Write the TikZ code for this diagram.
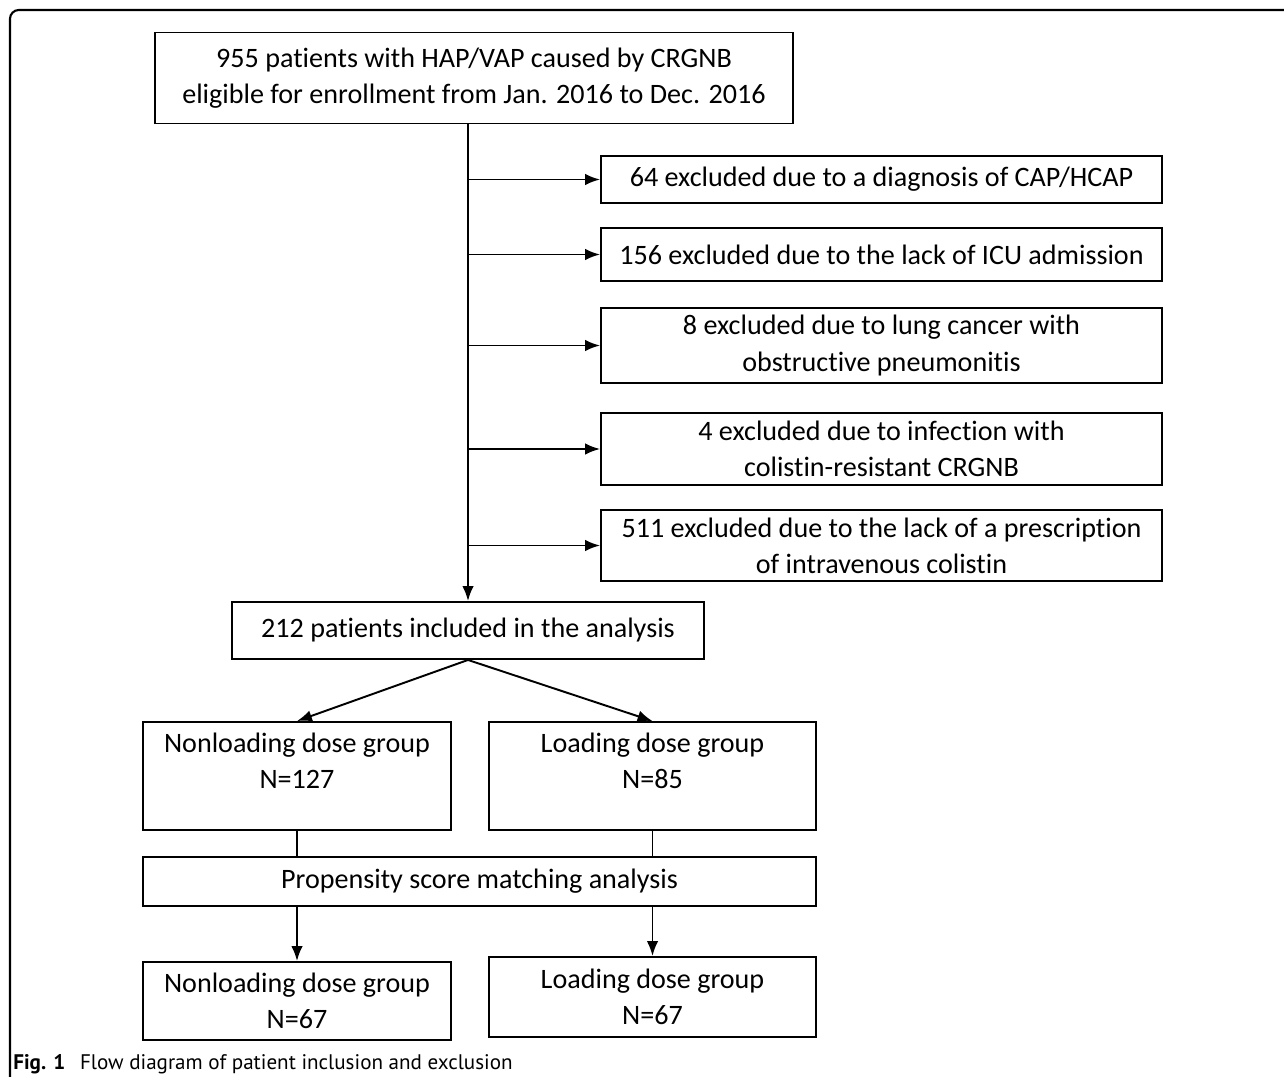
\documentclass[tikz,border=0pt]{standalone}
\usepackage{fontspec}
\setmainfont{Carlito}[Ligatures=NoCommon]
\newfontfamily\capfont{PT Sans}
\usetikzlibrary{positioning,arrows.meta}

\begin{document}
\begin{tikzpicture}[x=0.02cm, y=-0.02cm, >={Latex[length=8.5pt,width=6.5pt]},
    every node/.style={font=\fontsize{16}{20.5}\selectfont}]
  \tikzset{box/.style={draw, line width=1.1pt, align=center, inner sep=0pt},
           link/.style={line width=1.1pt}}
  \useasboundingbox (0,0) rectangle (1284,1077);

  % Frame
  \draw[line width=1.2pt, rounded corners=5pt] (1284,10) -- (10,10) -- (10,1077);

  % Enrollment and inclusion
  \node[box, minimum width=12.76cm, minimum height=1.82cm] (enrol) at (474,78)
    {955 patients with HAP/VAP caused by CRGNB\\eligible for enrollment from Jan. 2016 to Dec. 2016};
  \node[box, minimum width=9.44cm, minimum height=1.14cm] (incl) at (468,630.5)
    {212 patients included in the analysis};

  % Exclusions
  \node[box, minimum width=11.22cm, minimum height=0.94cm] (ex1) at (881.5,179.5)
    {64 excluded due to a diagnosis of CAP/HCAP};
  \node[box, minimum width=11.22cm, minimum height=1.06cm] (ex2) at (881.5,254.5)
    {156 excluded due to the lack of ICU admission};
  \node[box, minimum width=11.22cm, minimum height=1.5cm] (ex3) at (881.5,345.5)
    {8 excluded due to lung cancer with\\obstructive pneumonitis};
  \node[box, minimum width=11.22cm, minimum height=1.44cm] (ex4) at (881.5,449)
    {4 excluded due to infection with\\colistin-resistant CRGNB};
  \node[box, minimum width=11.22cm, minimum height=1.42cm] (ex5) at (881.5,545.5)
    {511 excluded due to the lack of a prescription\\of intravenous colistin};

  % Groups
  \node[box, minimum width=6.16cm, minimum height=2.16cm, text depth=0.6cm] (nl1) at (297,776)
    {Nonloading dose group\\N=127};
  \node[box, minimum width=6.54cm, minimum height=2.16cm, text depth=0.6cm] (ld1) at (652.5,776)
    {Loading dose group\\N=85};
  \node[box, minimum width=13.46cm, minimum height=0.98cm] (psm) at (479.5,881.5)
    {Propensity score matching analysis};
  \node[box, minimum width=6.16cm, minimum height=1.56cm] (nl2) at (297,1001)
    {Nonloading dose group\\N=67};
  \node[box, minimum width=6.54cm, minimum height=1.6cm] (ld2) at (652.5,997)
    {Loading dose group\\N=67};

  % Connectors
  \draw[link,->] (enrol.south -| incl.north) -- (incl.north);
  \foreach \n in {1,...,5}
    \draw[link,->] (incl.north |- ex\n.west) -- (ex\n.west);
  \draw[link,->] (incl.south) -- (nl1.north);
  \draw[link,->] (incl.south) -- (ld1.north);
  \draw[link] (nl1.south) -- (nl1.south |- psm.north);
  \draw[link] (ld1.south) -- (ld1.south |- psm.north);
  \draw[link,->] (psm.south -| nl2.north) -- (nl2.north);
  \draw[link,->] (psm.south -| ld2.north) -- (ld2.north);

  % Caption
  \node[anchor=base west, inner sep=0pt, font=\capfont\fontsize{12}{15}\selectfont] (cap) at (13,1069)
    {\textbf{Fig. 1}\hspace{0.7em}Flow diagram of patient inclusion and exclusion};
\end{tikzpicture}
\end{document}
